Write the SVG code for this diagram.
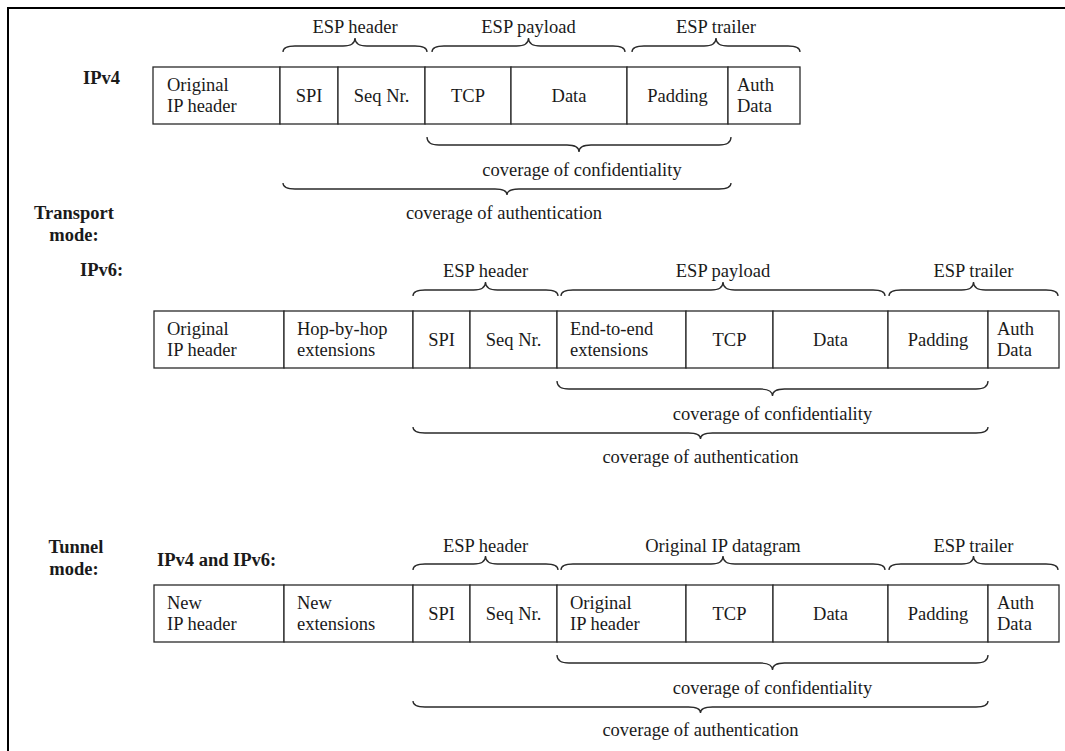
<svg xmlns="http://www.w3.org/2000/svg" width="1065" height="751" viewBox="0 0 1065 751">
<style>
text{font-family:"Liberation Serif","Times New Roman",serif;font-size:18.5px;fill:#1a1a1a}
.c{text-anchor:middle}
.b{font-weight:bold}
.box{fill:#fff;stroke:#2a2a2a;stroke-width:1.3}
.br{fill:none;stroke:#2a2a2a;stroke-width:1.3}
.frame{fill:none;stroke:#000;stroke-width:2}
</style>
<rect width="1065" height="751" fill="#fff"/>
<path class="frame" d="M8 751 L8 8 L1065 8"/>

<g id="labels">
<text class="b" x="83" y="84">IPv4</text>
<text class="b c" x="74" y="219">Transport</text>
<text class="b c" x="74" y="241">mode:</text>
<text class="b" x="80" y="276">IPv6:</text>
<text class="b c" x="76" y="553">Tunnel</text>
<text class="b c" x="74" y="575">mode:</text>
<text class="b" x="157" y="566">IPv4 and IPv6:</text>
</g>

<!-- Row 1: IPv4 transport -->
<g id="r1-orig"><rect class="box" x="153" y="67" width="127" height="57"/><text x="167" y="91">Original</text><text x="167" y="112">IP header</text></g>
<g id="r1-spi"><rect class="box" x="280" y="67" width="58" height="57"/><text class="c" x="309" y="102">SPI</text></g>
<g id="r1-seq"><rect class="box" x="338" y="67" width="87" height="57"/><text class="c" x="381.5" y="102">Seq Nr.</text></g>
<g id="r1-tcp"><rect class="box" x="425" y="67" width="86" height="57"/><text class="c" x="468" y="102">TCP</text></g>
<g id="r1-data"><rect class="box" x="511" y="67" width="116" height="57"/><text class="c" x="569" y="102">Data</text></g>
<g id="r1-pad"><rect class="box" x="627" y="67" width="101" height="57"/><text class="c" x="677.5" y="102">Padding</text></g>
<g id="r1-auth"><rect class="box" x="728" y="67" width="72" height="57"/><text x="737" y="91">Auth</text><text x="737" y="112">Data</text></g>

<!-- Row 2: IPv6 transport -->
<g id="r2-orig"><rect class="box" x="154" y="311" width="130" height="57"/><text x="167" y="335">Original</text><text x="167" y="356">IP header</text></g>
<g id="r2-hop"><rect class="box" x="284" y="311" width="129" height="57"/><text x="297" y="335">Hop-by-hop</text><text x="297" y="356">extensions</text></g>
<g id="r2-spi"><rect class="box" x="413" y="311" width="57" height="57"/><text class="c" x="441.5" y="346">SPI</text></g>
<g id="r2-seq"><rect class="box" x="470" y="311" width="87" height="57"/><text class="c" x="513.5" y="346">Seq Nr.</text></g>
<g id="r2-e2e"><rect class="box" x="557" y="311" width="129" height="57"/><text x="570" y="335">End-to-end</text><text x="570" y="356">extensions</text></g>
<g id="r2-tcp"><rect class="box" x="686" y="311" width="87" height="57"/><text class="c" x="729.5" y="346">TCP</text></g>
<g id="r2-data"><rect class="box" x="773" y="311" width="115" height="57"/><text class="c" x="830.5" y="346">Data</text></g>
<g id="r2-pad"><rect class="box" x="888" y="311" width="100" height="57"/><text class="c" x="938" y="346">Padding</text></g>
<g id="r2-auth"><rect class="box" x="988" y="311" width="71" height="57"/><text x="997" y="335">Auth</text><text x="997" y="356">Data</text></g>

<!-- Row 3: tunnel -->
<g id="r3-new"><rect class="box" x="154" y="585" width="130" height="57"/><text x="167" y="609">New</text><text x="167" y="630">IP header</text></g>
<g id="r3-ext"><rect class="box" x="284" y="585" width="129" height="57"/><text x="297" y="609">New</text><text x="297" y="630">extensions</text></g>
<g id="r3-spi"><rect class="box" x="413" y="585" width="57" height="57"/><text class="c" x="441.5" y="620">SPI</text></g>
<g id="r3-seq"><rect class="box" x="470" y="585" width="87" height="57"/><text class="c" x="513.5" y="620">Seq Nr.</text></g>
<g id="r3-orig"><rect class="box" x="557" y="585" width="129" height="57"/><text x="570" y="609">Original</text><text x="570" y="630">IP header</text></g>
<g id="r3-tcp"><rect class="box" x="686" y="585" width="87" height="57"/><text class="c" x="729.5" y="620">TCP</text></g>
<g id="r3-data"><rect class="box" x="773" y="585" width="115" height="57"/><text class="c" x="830.5" y="620">Data</text></g>
<g id="r3-pad"><rect class="box" x="888" y="585" width="100" height="57"/><text class="c" x="938" y="620">Padding</text></g>
<g id="r3-auth"><rect class="box" x="988" y="585" width="71" height="57"/><text x="997" y="609">Auth</text><text x="997" y="630">Data</text></g>

<g id="connectors">
<path class="br" d="M283 52 Q283 46 295 46 L343 46 Q355 46 355 38 Q355 46 367 46 L415 46 Q427 46 427 52"/>
<path class="br" d="M432 52 Q432 46 444 46 L516.5 46 Q528.5 46 528.5 38 Q528.5 46 540.5 46 L613 46 Q625 46 625 52"/>
<path class="br" d="M632 52 Q632 46 644 46 L704 46 Q716 46 716 38 Q716 46 728 46 L788 46 Q800 46 800 52"/>
<path class="br" d="M427 137 Q427 145 439 145 L567 145 Q579 145 579 152 Q579 145 591 145 L719 145 Q731 145 731 137"/>
<path class="br" d="M283 183 Q283 189 295 189 L495 189 Q507 189 507 195 Q507 189 519 189 L719 189 Q731 189 731 183"/>

<path class="br" d="M413 296 Q413 290 425 290 L473.5 290 Q485.5 290 485.5 282 Q485.5 290 497.5 290 L546 290 Q558 290 558 296"/>
<path class="br" d="M561 296 Q561 290 573 290 L711 290 Q723 290 723 282 Q723 290 735 290 L873 290 Q885 290 885 296"/>
<path class="br" d="M889 296 Q889 290 901 290 L961.5 290 Q973.5 290 973.5 282 Q973.5 290 985.5 290 L1046 290 Q1058 290 1058 296"/>
<path class="br" d="M557 381 Q557 389 569 389 L760.5 389 Q772.5 389 772.5 396 Q772.5 389 784.5 389 L976 389 Q988 389 988 381"/>
<path class="br" d="M413 427 Q413 433 425 433 L688.5 433 Q700.5 433 700.5 439 Q700.5 433 712.5 433 L976 433 Q988 433 988 427"/>

<path class="br" d="M413 570 Q413 564 425 564 L473.5 564 Q485.5 564 485.5 556 Q485.5 564 497.5 564 L546 564 Q558 564 558 570"/>
<path class="br" d="M561 570 Q561 564 573 564 L711 564 Q723 564 723 556 Q723 564 735 564 L873 564 Q885 564 885 570"/>
<path class="br" d="M889 570 Q889 564 901 564 L961.5 564 Q973.5 564 973.5 556 Q973.5 564 985.5 564 L1046 564 Q1058 564 1058 570"/>
<path class="br" d="M557 655 Q557 663 569 663 L760.5 663 Q772.5 663 772.5 670 Q772.5 663 784.5 663 L976 663 Q988 663 988 655"/>
<path class="br" d="M413 701 Q413 707 425 707 L688.5 707 Q700.5 707 700.5 713 Q700.5 707 712.5 707 L976 707 Q988 707 988 701"/>
</g>

<g id="brace-labels">
<text class="c" x="355" y="33">ESP header</text>
<text class="c" x="528.5" y="33">ESP payload</text>
<text class="c" x="716" y="33">ESP trailer</text>
<text class="c" x="582" y="176">coverage of confidentiality</text>
<text class="c" x="504" y="219">coverage of authentication</text>

<text class="c" x="485.5" y="277">ESP header</text>
<text class="c" x="723" y="277">ESP payload</text>
<text class="c" x="973.5" y="277">ESP trailer</text>
<text class="c" x="772.5" y="420">coverage of confidentiality</text>
<text class="c" x="700.5" y="463">coverage of authentication</text>

<text class="c" x="485.5" y="552">ESP header</text>
<text class="c" x="723" y="552">Original IP datagram</text>
<text class="c" x="973.5" y="552">ESP trailer</text>
<text class="c" x="772.5" y="694">coverage of confidentiality</text>
<text class="c" x="700.5" y="736">coverage of authentication</text>
</g>
</svg>
